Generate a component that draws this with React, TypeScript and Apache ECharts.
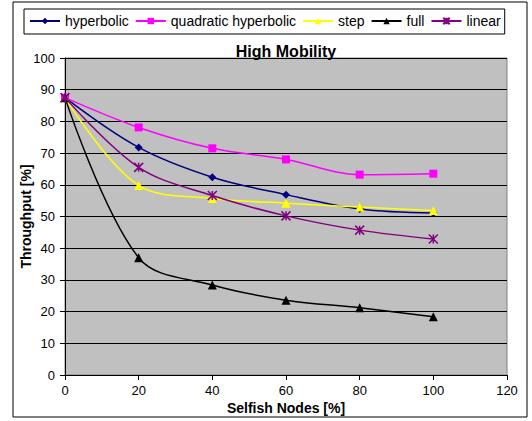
import React, { useEffect, useRef } from "react";
import * as echarts from "echarts";

const xValues = [0, 20, 40, 60, 80, 100];
const hyperbolic = [87.5, 71.8, 62.4, 56.9, 52.4, 51.1];
const quadraticHyperbolic = [87.5, 78.1, 71.5, 68.0, 63.2, 63.5];
const step = [87.5, 59.8, 55.7, 54.2, 53.0, 51.9];
const full = [87.5, 37.0, 28.4, 23.6, 21.2, 18.4];
const linear = [87.5, 65.5, 56.6, 50.2, 45.7, 42.9];

const seriesNames = ["hyperbolic", "quadratic hyperbolic", "step", "full", "linear"];
const seriesColors = ["#000080", "#FF00FF", "#FFFF00", "#000000", "#800080"];
const seriesSymbols = [
  "diamond",
  "rect",
  "triangle",
  "triangle",
  "path://M0,0 L10,10 M10,0 L0,10 M5,0 L5,10",
];
const seriesSizes = [8, 8, 9, 9, 9];
const seriesData = [hyperbolic, quadraticHyperbolic, step, full, linear];

const FONT = "'Liberation Sans', Arial, sans-serif";

export default function App() {
  const ref = useRef<HTMLDivElement>(null);
  useEffect(() => {
    if (!ref.current) return;
    const chart = echarts.init(ref.current, null, { renderer: "svg" });
    const series = seriesNames.map((name, i) => {
      const isStar = i === 4;
      return {
        name,
        type: "line",
        data: xValues.map((x, j) => [x, seriesData[i][j]]),
        smooth: 0.35,
        symbol: seriesSymbols[i],
        symbolSize: seriesSizes[i],
        showSymbol: true,
        lineStyle: { color: seriesColors[i], width: 1.5 },
        itemStyle: isStar
          ? { color: "rgba(0,0,0,0)", borderColor: seriesColors[i], borderWidth: 1.5 }
          : { color: seriesColors[i], borderWidth: 0 },
        emphasis: { disabled: true },
        z: 3,
      };
    });
    chart.setOption({
      animation: false,
      backgroundColor: "#FFFFFF",
      textStyle: { fontFamily: FONT },
      title: {
        text: "High Mobility",
        left: 281,
        top: 38,
        textAlign: "center",
        textStyle: { fontFamily: FONT, fontSize: 16, fontWeight: "bold", color: "#000" },
      },
      legend: {
        left: 24,
        top: 9,
        padding: [5, 4, 6, 5],
        itemWidth: 30,
        itemHeight: 8,
        itemGap: 6,
        borderColor: "#000",
        borderWidth: 1,
        backgroundColor: "#fff",
        textStyle: { fontFamily: FONT, fontSize: 14, color: "#000" },
        data: seriesNames,
      },
      graphic: [
        {
          type: "rect",
          shape: { x: 13, y: 2, width: 514, height: 415 },
          style: { fill: "none", stroke: "#000", lineWidth: 1 },
          silent: true,
          z: -1,
        },
      ],
      grid: {
        left: 65,
        right: 25,
        top: 58,
        bottom: 46,
        show: true,
        backgroundColor: "#C0C0C0",
        borderColor: "#808080",
        borderWidth: 1,
      },
      xAxis: {
        type: "value",
        min: 0,
        max: 120,
        interval: 20,
        name: "Selfish Nodes [%]",
        nameLocation: "middle",
        nameGap: 26,
        nameMoveOverlap: false,
        nameTextStyle: { fontFamily: FONT, fontSize: 14, fontWeight: "bold", color: "#000" },
        axisLine: { show: true, onZero: false, lineStyle: { color: "#000", width: 1 } },
        axisTick: { show: true, length: 5, lineStyle: { color: "#000" } },
        axisLabel: { fontFamily: FONT, fontSize: 13, color: "#000", margin: 9 },
        splitLine: { show: false },
      },
      yAxis: {
        type: "value",
        min: 0,
        max: 100,
        interval: 10,
        name: "Throughput [%]",
        nameLocation: "middle",
        nameGap: 32,
        nameMoveOverlap: false,
        nameRotate: 90,
        nameTextStyle: { fontFamily: FONT, fontSize: 14, fontWeight: "bold", color: "#000" },
        axisLine: { show: true, lineStyle: { color: "#000", width: 1 } },
        axisTick: { show: true, length: 5, lineStyle: { color: "#000" } },
        axisLabel: { fontFamily: FONT, fontSize: 13, color: "#000", margin: 10 },
        splitLine: { show: true, lineStyle: { color: "#000", width: 1 } },
      },
      series,
    });
    return () => chart.dispose();
  }, []);
  return (
    <div
      ref={ref}
      style={{ position: "fixed", left: 0, top: 0, width: 532, height: 421 }}
    />
  );
}
